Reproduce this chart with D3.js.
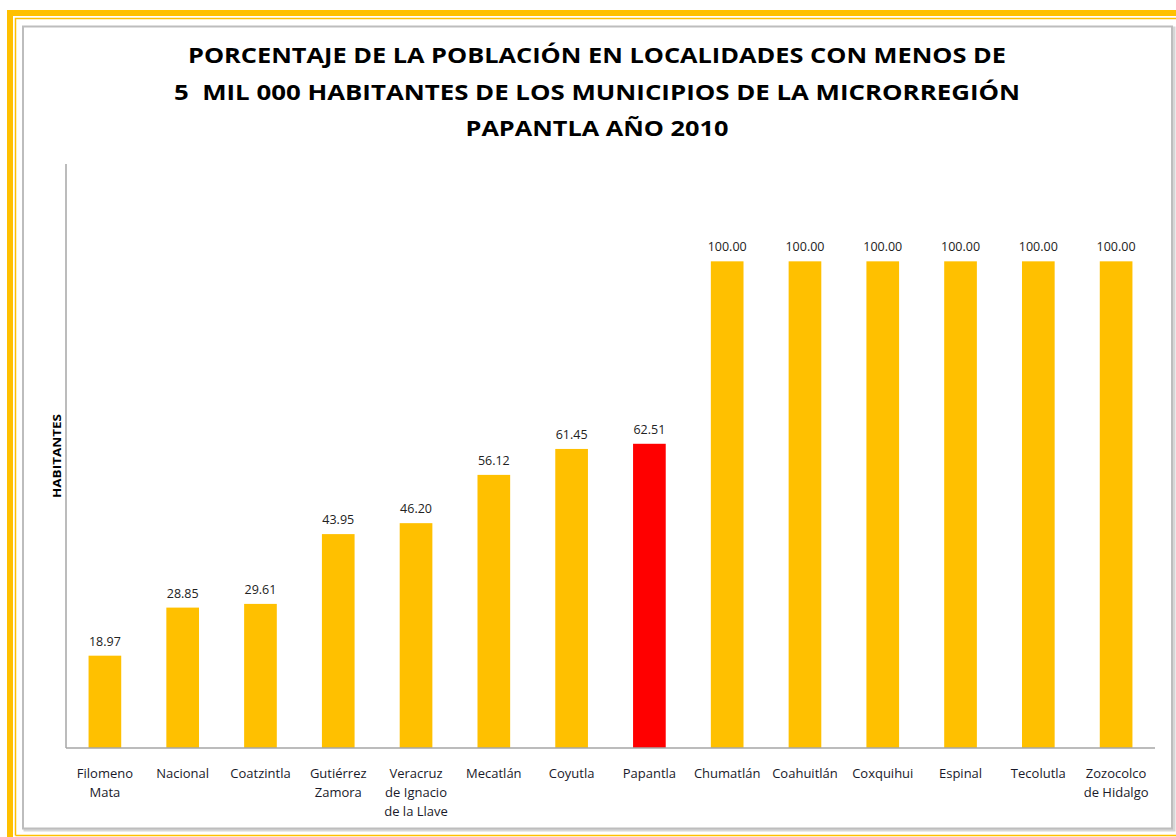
<!DOCTYPE html>
<html>
<head>
<meta charset="utf-8">
<script src="https://cdn.jsdelivr.net/npm/d3@7"></script>
<style>
  body { margin: 0; background: #fff; }
  svg { display: block; font-family: "Open Sans", "Noto Sans", sans-serif; }
</style>
</head>
<body>
<div id="chart"></div>
<script>
// data
const categories = ["Filomeno Mata", "Nacional", "Coatzintla", "Gutiérrez Zamora",
    "Veracruz de Ignacio de la Llave", "Mecatlán", "Coyutla", "Papantla", "Chumatlán",
    "Coahuitlán", "Coxquihui", "Espinal", "Tecolutla", "Zozocolco de Hidalgo"];
const labelLines = [["Filomeno", "Mata"], ["Nacional"], ["Coatzintla"], ["Gutiérrez", "Zamora"],
    ["Veracruz", "de Ignacio", "de la Llave"], ["Mecatlán"], ["Coyutla"], ["Papantla"], ["Chumatlán"],
    ["Coahuitlán"], ["Coxquihui"], ["Espinal"], ["Tecolutla"], ["Zozocolco", "de Hidalgo"]];
const values = [18.97, 28.85, 29.61, 43.95, 46.20, 56.12, 61.45, 62.51, 100, 100, 100, 100, 100, 100];
const highlight = "Papantla";
const titleLines = ["PORCENTAJE DE LA POBLACIÓN EN LOCALIDADES CON MENOS DE",
    "5  MIL 000 HABITANTES DE LOS MUNICIPIOS DE LA MICRORREGIÓN",
    "PAPANTLA AÑO 2010"];
const yLabel = "HABITANTES";
const yMax = 120;

const W = 1176, H = 837;
const margin = {top: 164, right: 21, bottom: 89, left: 66};
const width = W - margin.left - margin.right;
const height = H - margin.top - margin.bottom;

const svg = d3.select("#chart").append("svg")
    .attr("width", W)
    .attr("height", H);

// outer yellow frame (runs off the right and bottom edge)
const yellow = "#FFC000";
svg.append("path")
    .attr("d", "M10," + (H + 5) + " V13 H" + (W + 5))
    .attr("fill", "none")
    .attr("stroke", yellow)
    .attr("stroke-width", 6);
svg.append("path")
    .attr("d", "M15.5," + (H - 1.5) + " V18.5 H" + (W + 5) + " M15.5," + (H - 1.5) + " H" + (W + 5))
    .attr("fill", "none")
    .attr("stroke", yellow)
    .attr("stroke-width", 1.5);

// grey inner box with a small shadow
svg.append("rect")
    .attr("x", 25).attr("y", 28)
    .attr("width", 1149).attr("height", 802)
    .attr("fill", "none")
    .attr("stroke", "#d6d6d6")
    .attr("stroke-width", 3);
svg.append("rect")
    .attr("x", 23).attr("y", 26.5)
    .attr("width", 1149).attr("height", 802)
    .attr("fill", "#fff")
    .attr("stroke", "#bdbdbd")
    .attr("stroke-width", 2);

// title
svg.append("g")
    .selectAll("text")
    .data(titleLines)
    .join("text")
    .attr("x", 597)
    .attr("y", (d, i) => 63 + i * 36.5)
    .attr("text-anchor", "middle")
    .attr("font-weight", "bold")
    .attr("font-size", 22)
    .attr("fill", "#000")
    .style("white-space", "pre")
    .attr("textLength", (d, i) => [818, 846, 263][i])
    .attr("lengthAdjust", "spacingAndGlyphs")
    .text(d => d);

const g = svg.append("g")
    .attr("transform", "translate(" + margin.left + "," + margin.top + ")");

const x = d3.scaleBand()
    .domain(categories)
    .range([0, width])
    .paddingInner(0.58)
    .paddingOuter(0.29);

const y = d3.scaleLinear()
    .domain([0, yMax])
    .range([height, 0]);

// bars
g.selectAll(".bar")
    .data(values)
    .join("rect")
    .attr("class", "bar")
    .attr("x", (d, i) => x(categories[i]))
    .attr("y", d => y(d))
    .attr("width", x.bandwidth())
    .attr("height", d => height - y(d))
    .attr("fill", (d, i) => categories[i] === highlight ? "#FF0000" : yellow);

// value labels
g.selectAll(".bar-value")
    .data(values)
    .join("text")
    .attr("class", "bar-value")
    .attr("x", (d, i) => x(categories[i]) + x.bandwidth() / 2)
    .attr("y", d => y(d) - 10)
    .attr("text-anchor", "middle")
    .attr("font-size", 12.5)
    .attr("fill", "#222")
    .text(d => d.toFixed(2));

// axes (lines only)
g.append("line")
    .attr("x1", 0).attr("x2", 0)
    .attr("y1", 0).attr("y2", height)
    .attr("stroke", "#a6a6a6")
    .attr("stroke-width", 1.5);
g.append("line")
    .attr("x1", 0).attr("x2", width)
    .attr("y1", height).attr("y2", height)
    .attr("stroke", "#a6a6a6")
    .attr("stroke-width", 1.5);

// category labels
const cat = g.selectAll(".bar-label")
    .data(labelLines)
    .join("text")
    .attr("class", "bar-label")
    .attr("text-anchor", "middle")
    .attr("font-size", 13)
    .attr("fill", "#1a1a2a")
    .attr("transform", (d, i) => "translate(" + (x(categories[i]) + x.bandwidth() / 2) + "," + (height + 30) + ")");
cat.selectAll("tspan")
    .data(d => d)
    .join("tspan")
    .attr("x", 0)
    .attr("dy", (d, i) => i === 0 ? 0 : 19)
    .text(d => d);

// y label
svg.append("text")
    .attr("transform", "translate(61,456) rotate(-90)")
    .attr("text-anchor", "middle")
    .attr("font-weight", "bold")
    .attr("font-size", 10)
    .attr("textLength", 84)
    .attr("lengthAdjust", "spacingAndGlyphs")
    .text(yLabel);
</script>
</body>
</html>
